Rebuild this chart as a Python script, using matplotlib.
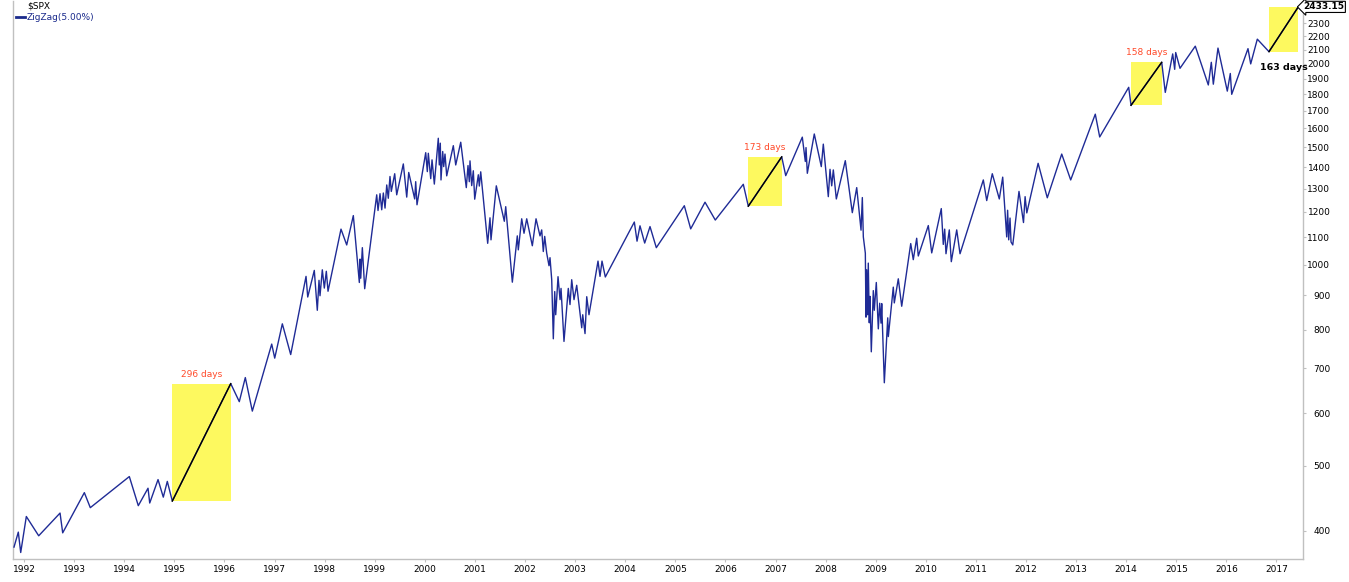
import matplotlib
matplotlib.use("Agg")
import matplotlib.pyplot as plt
import matplotlib.transforms as mtransforms
from matplotlib.patches import Rectangle
from matplotlib.ticker import FixedLocator, FixedFormatter, NullLocator
import numpy as np

# ZigZag(5%) pivots of $SPX, date as decimal year
dates = [
    1991.800, 1991.886, 1991.934, 1992.046, 1992.293, 1992.719, 1992.772, 1993.204, 1993.323, 1994.102,
    1994.281, 1994.475, 1994.509, 1994.675, 1994.780, 1994.860, 1994.960, 1996.126, 1996.297, 1996.417,
    1996.557, 1996.944, 1997.004, 1997.156, 1997.323, 1997.629, 1997.663, 1997.794, 1997.854, 1997.888,
    1997.908, 1997.954, 1997.994, 1998.034, 1998.068, 1998.327, 1998.441, 1998.573, 1998.693, 1998.707,
    1998.721, 1998.753, 1998.800, 1999.040, 1999.066, 1999.106, 1999.140, 1999.172, 1999.206, 1999.240,
    1999.271, 1999.305, 1999.331, 1999.399, 1999.439, 1999.571, 1999.639, 1999.679, 1999.798, 1999.818,
    1999.844, 2000.018, 2000.050, 2000.070, 2000.118, 2000.144, 2000.190, 2000.269, 2000.289, 2000.309,
    2000.323, 2000.357, 2000.377, 2000.403, 2000.437, 2000.569, 2000.617, 2000.717, 2000.828, 2000.862,
    2000.888, 2000.902, 2000.936, 2000.968, 2000.996, 2001.068, 2001.088, 2001.116, 2001.255, 2001.301,
    2001.321, 2001.427, 2001.587, 2001.615, 2001.747, 2001.846, 2001.866, 2001.934, 2001.980, 2002.034,
    2002.146, 2002.220, 2002.299, 2002.333, 2002.365, 2002.393, 2002.433, 2002.479, 2002.499, 2002.533,
    2002.565, 2002.593, 2002.613, 2002.659, 2002.699, 2002.719, 2002.778, 2002.864, 2002.898, 2002.932,
    2002.978, 2003.032, 2003.132, 2003.152, 2003.198, 2003.232, 2003.277, 2003.457, 2003.497, 2003.537,
    2003.603, 2004.182, 2004.236, 2004.295, 2004.389, 2004.495, 2004.621, 2005.180, 2005.307, 2005.593,
    2005.798, 2006.357, 2006.457, 2007.124, 2007.204, 2007.535, 2007.595, 2007.609, 2007.635, 2007.774,
    2007.914, 2007.954, 2008.054, 2008.088, 2008.122, 2008.154, 2008.214, 2008.393, 2008.533, 2008.621,
    2008.707, 2008.733, 2008.753, 2008.793, 2008.806, 2008.820, 2008.840, 2008.852, 2008.872, 2008.886,
    2008.912, 2008.952, 2008.972, 2009.012, 2009.052, 2009.080, 2009.106, 2009.120, 2009.172, 2009.240,
    2009.252, 2009.319, 2009.351, 2009.371, 2009.451, 2009.519, 2009.699, 2009.750, 2009.818, 2009.850,
    2010.050, 2010.118, 2010.309, 2010.349, 2010.377, 2010.403, 2010.469, 2010.509, 2010.617, 2010.683,
    2011.148, 2011.216, 2011.327, 2011.467, 2011.535, 2011.615, 2011.633, 2011.655, 2011.681, 2011.701,
    2011.736, 2011.860, 2011.950, 2011.982, 2012.016, 2012.242, 2012.425, 2012.713, 2012.892, 2013.383,
    2013.471, 2014.050, 2014.096, 2014.709, 2014.780, 2014.928, 2014.968, 2014.988, 2015.074, 2015.379,
    2015.639, 2015.699, 2015.739, 2015.832, 2016.018, 2016.078, 2016.106, 2016.431, 2016.485, 2016.617,
    2016.850, 2017.435,
]
closes = [
    378, 398, 371, 420, 393, 425, 397, 456, 433, 482,
    436, 463, 440, 477, 449, 474, 443, 664, 624, 678,
    604, 761, 725, 816, 734, 961, 895, 981, 855, 948,
    899, 983, 923, 978, 913, 1131, 1071, 1185, 941, 1020,
    955, 1061, 921, 1273, 1206, 1278, 1209, 1281, 1216, 1317,
    1258, 1356, 1288, 1369, 1273, 1416, 1263, 1375, 1255, 1332,
    1230, 1472, 1379, 1469, 1346, 1436, 1321, 1547, 1411, 1521,
    1340, 1478, 1403, 1465, 1359, 1508, 1411, 1526, 1305, 1408,
    1332, 1431, 1314, 1383, 1254, 1364, 1312, 1378, 1077, 1176,
    1090, 1313, 1162, 1222, 942, 1105, 1053, 1172, 1115, 1172,
    1068, 1172, 1105, 1128, 1047, 1103, 1041, 997, 1025, 950,
    775, 912, 842, 960, 887, 922, 768, 922, 872, 950,
    887, 932, 805, 842, 789, 896, 842, 1013, 961, 1013,
    959, 1159, 1085, 1144, 1078, 1141, 1061, 1226, 1132, 1241,
    1167, 1320, 1224, 1451, 1360, 1553, 1428, 1498, 1371, 1570,
    1403, 1516, 1265, 1390, 1313, 1387, 1255, 1432, 1197, 1305,
    1127, 1261, 1101, 1041, 835, 983, 842, 1006, 819, 897,
    741, 915, 855, 941, 802, 876, 818, 875, 666, 833,
    781, 875, 926, 877, 953, 867, 1076, 1018, 1096, 1031,
    1145, 1042, 1214, 1073, 1131, 1039, 1128, 1011, 1128, 1039,
    1340, 1248, 1369, 1255, 1353, 1101, 1207, 1090, 1175, 1082,
    1071, 1288, 1157, 1265, 1196, 1419, 1260, 1465, 1340, 1681,
    1554, 1844, 1733, 2010, 1812, 2069, 1962, 2079, 1969, 2125,
    1859, 2010, 1864, 2111, 1820, 1934, 1800, 2107, 1999, 2177,
    2085, 2433.15,
]

years = list(range(1992, 2018))
# 2400 sits under the last-value tag, so it is left out
price_ticks = [400, 500, 600, 700, 800, 900, 1000, 1100, 1200, 1300, 1400, 1500,
               1600, 1700, 1800, 1900, 2000, 2100, 2200, 2300]

# highlighted rally legs
leg_starts = [1994.960, 2006.457, 2014.096, 2016.850]
leg_ends = [1996.126, 2007.124, 2014.709, 2017.435]
leg_labels = ["296 days", "173 days", "158 days", "163 days"]

dates = np.array(dates)
closes = np.array(closes)

line_color = "#1f2b96"
grey = "#c0c0c0"

fig = plt.figure(figsize=(13.49, 5.82), dpi=100)
ax = fig.add_axes([13.3 / 1349, (582 - 559.3) / 582, 1290 / 1349, 558.3 / 582])

ax.plot(dates, closes, color=line_color, lw=1.0, zorder=3)

for i, (s, e, lab) in enumerate(zip(leg_starts, leg_ends, leg_labels)):
    i0 = np.argmin(np.abs(dates - s))
    i1 = np.argmin(np.abs(dates - e))
    x0, x1 = dates[i0], dates[i1]
    y0, y1 = closes[i0], closes[i1]
    ax.add_patch(Rectangle((x0, y0), x1 - x0, y1 - y0, facecolor="#fdf95f",
                           edgecolor="none", zorder=2))
    ax.plot([x0, x1], [y0, y1], color="black", lw=1.0, zorder=4)
    xm = (x0 + x1) / 2
    if i < 3:
        ax.annotate(lab, (xm, y1), xytext=(0, 5), textcoords="offset pixels",
                    ha="center", va="bottom", color="#ff4a2a", fontsize=6.5)
    else:
        ax.annotate(lab, (xm, y0), xytext=(0, -11), textcoords="offset pixels",
                    ha="center", va="top", color="black", fontsize=6.8,
                    fontweight="bold")

ax.set_yscale("log")
ax.set_xlim(1991.786, 2017.535)
ax.set_ylim(362.4, 2483)

ax.yaxis.tick_right()
ax.yaxis.set_major_locator(FixedLocator(price_ticks))
ax.yaxis.set_major_formatter(FixedFormatter([str(t) for t in price_ticks]))
ax.yaxis.set_minor_locator(NullLocator())
ax.xaxis.set_major_locator(FixedLocator(years))
ax.xaxis.set_major_formatter(FixedFormatter([str(y) for y in years]))
ax.xaxis.set_minor_locator(NullLocator())

ax.tick_params(axis="y", which="major", direction="out", length=2.5, width=0.8,
               color=grey, labelsize=6.5, pad=17)
ax.tick_params(axis="x", which="major", direction="out", length=2.5, width=0.8,
               color=grey, labelsize=6.5, pad=1.5)
for lbl in ax.get_yticklabels():
    lbl.set_horizontalalignment("right")

for side in ["left", "right", "bottom"]:
    ax.spines[side].set_color(grey)
    ax.spines[side].set_linewidth(1.0)
ax.spines["top"].set_visible(False)

# last value tag on the price axis
trans = mtransforms.blended_transform_factory(ax.transAxes, ax.transData)
ax.text(1.0, closes[-1], "2433.15", transform=trans, ha="left", va="center",
        fontsize=6.5, fontweight="bold", color="black", clip_on=False, zorder=6,
        bbox=dict(boxstyle="larrow,pad=0.12", facecolor="white", edgecolor="black", lw=0.8))

# legend / title block
fig.text(27 / 1349, 1 - 6 / 582, "$SPX", fontsize=6.5, color="black", va="center")
fig.add_artist(plt.Line2D([16 / 1349, 25 / 1349], [1 - 17 / 582, 1 - 17 / 582],
                          color="#1a2a8c", lw=2))
fig.text(27 / 1349, 1 - 17 / 582, "ZigZag(5.00%)", fontsize=6.5, color="#1a2a8c", va="center")

fig.savefig("out.png", dpi=100)
